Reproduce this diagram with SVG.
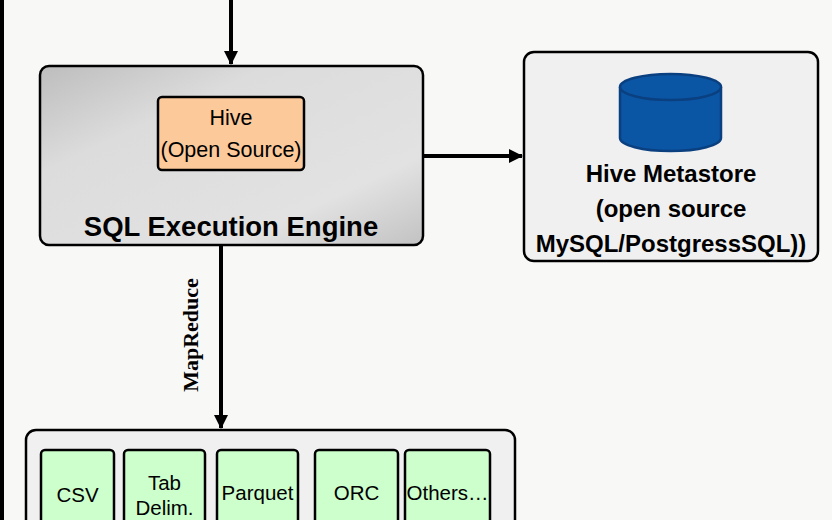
<svg xmlns="http://www.w3.org/2000/svg" width="832" height="520" viewBox="0 0 832 520">
<defs>
<linearGradient id="eng" x1="0" y1="0" x2="1" y2="1">
<stop offset="0" stop-color="#bdbdbd"/><stop offset="0.3" stop-color="#dcdcdc"/><stop offset="0.75" stop-color="#e2e2e2"/><stop offset="1" stop-color="#c2c2c2"/>
</linearGradient>
<marker id="ah" markerWidth="14" markerHeight="14" refX="13" refY="7" orient="auto" markerUnits="userSpaceOnUse"><path d="M0,0 L14,7 L0,14 z" fill="#000"/></marker>
<style>
.box{stroke:#000;stroke-width:2.5}
.t{font-family:"Liberation Sans",Arial,sans-serif;fill:#000;text-anchor:middle}
.b{font-weight:bold}
.cn{stroke:#000;stroke-width:4;fill:none}
.g{fill:#ccffcc;stroke:#000;stroke-width:2.5}
</style>
</defs>
<rect width="832" height="520" fill="#f8f8f6"/>
<line x1="2" y1="0" x2="2" y2="520" stroke="#000" stroke-width="4"/>
<g id="engine">
<rect class="box" x="40" y="66" width="383" height="179" rx="9" fill="url(#eng)"/>
<text class="t b" x="231" y="236" font-size="27.5">SQL Execution Engine</text>
</g>
<g id="hive">
<rect class="box" x="158" y="97" width="146" height="73" rx="4" fill="#fcc99b"/>
<text class="t" x="231" y="125" font-size="21.5">Hive</text>
<text class="t" x="231" y="157" font-size="21.5">(Open Source)</text>
</g>
<g id="metastore">
<rect class="box" x="524" y="52" width="294" height="209" rx="10" fill="#f0f0f0"/>
<path d="M620,87 L620,138 A50.5,13 0 0 0 721,138 L721,87" fill="#0b56a4" stroke="#0a3f80" stroke-width="2.5"/>
<ellipse cx="670.5" cy="87" rx="50.5" ry="13" fill="#0b56a4" stroke="#0a3f80" stroke-width="2.5"/>
<text class="t b" x="671" y="182" font-size="24">Hive Metastore</text>
<text class="t b" x="671" y="217" font-size="24">(open source</text>
<text class="t b" x="671" y="252" font-size="24">MySQL/PostgressSQL))</text>
</g>
<g id="storage">
<rect class="box" x="26" y="430" width="489" height="110" rx="10" fill="#f0f0f0"/>
</g>
<g id="csv"><rect class="g" x="41" y="450" width="73" height="90" rx="4"/><text class="t" x="77.5" y="502" font-size="20.5">CSV</text></g>
<g id="tab"><rect class="g" x="124" y="450" width="81" height="90" rx="4"/><text class="t" x="164.5" y="490" font-size="20.5">Tab</text><text class="t" x="164.5" y="515" font-size="20.5">Delim.</text></g>
<g id="parquet"><rect class="g" x="217" y="450" width="81" height="90" rx="4"/><text class="t" x="257.5" y="500" font-size="20.5">Parquet</text></g>
<g id="orc"><rect class="g" x="315" y="450" width="83" height="90" rx="4"/><text class="t" x="356.5" y="500" font-size="20.5">ORC</text></g>
<g id="others"><rect class="g" x="405" y="450" width="85" height="90" rx="4"/><text class="t" x="447.5" y="500" font-size="20.5">Others…</text></g>
<g id="connectors">
<line class="cn" x1="231" y1="0" x2="231" y2="64" marker-end="url(#ah)"/>
<line class="cn" x1="423" y1="156" x2="522" y2="156" marker-end="url(#ah)"/>
<line class="cn" x1="221" y1="245" x2="221" y2="428" marker-end="url(#ah)"/>
<text x="0" y="0" transform="translate(190,335) rotate(-90)" font-family="Liberation Serif,serif" font-weight="bold" font-size="22" text-anchor="middle" dominant-baseline="central">MapReduce</text>
</g>
</svg>
